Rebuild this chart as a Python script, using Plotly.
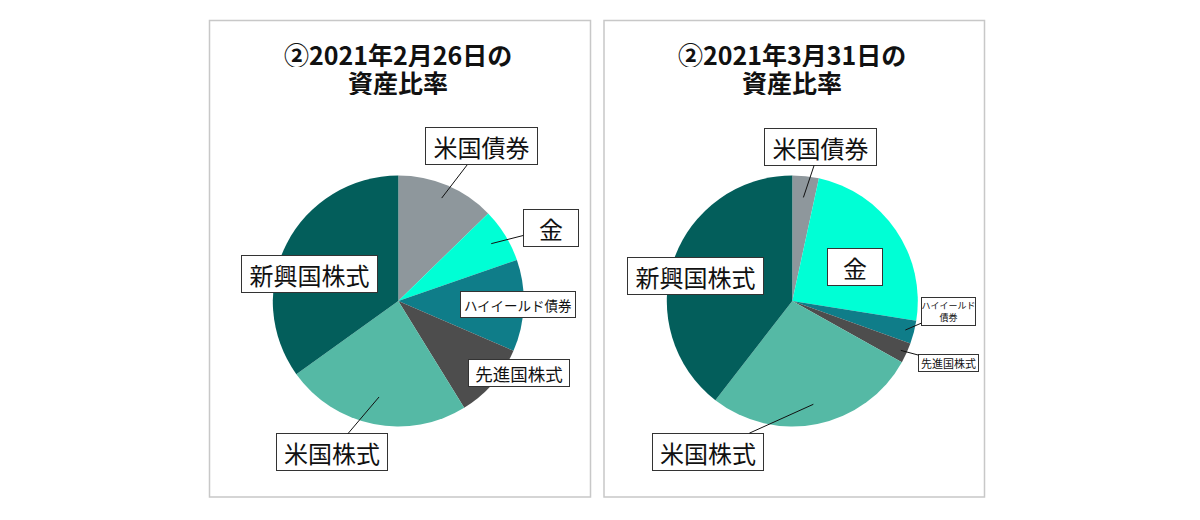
import math
import plotly.graph_objects as go

# ---------------- data ----------------
categories = ["米国債券", "金", "ハイイールド債券", "先進国株式", "米国株式", "新興国株式"]
values_feb = [12.7, 7.0, 11.8, 9.7, 23.9, 34.9]
values_mar = [3.4, 24.1, 3.0, 2.6, 27.4, 39.5]
colors = ["#8E979C", "#00FFD5", "#0F7D89", "#4D4D4D", "#55B9A5", "#035E5B"]
title_feb = ["②2021年2月26日の", "資産比率"]
title_mar = ["②2021年3月31日の", "資産比率"]
label_feb = ["米国債券", "金", "ハイイールド債券", "先進国株式", "米国株式", "新興国株式"]
label_mar = ["米国債券", "金", "ハイイールド<br>債券", "先進国株式", "米国株式", "新興国株式"]

W, H = 1200, 520
FONT = "Noto Sans CJK JP"

# ---------------- layout / geometry (pixels) ----------------
R = 125.5
panels = [
    dict(values=values_feb, title=title_feb, labels=label_feb, cx=398.3, cy=301,
         box=(209.5, 20.5, 590.5, 497),
         # label box: center x, center y, width, height, font size, leader radius fraction (None = no leader)
         lab=[(481.3, 146.5, 113, 38, 24, 0.89),
              (550.7, 228.5, 56, 38, 24, 0.87),
              (518.3, 304.2, 116, 27, 13.5, None),
              (519.3, 373.3, 102, 28, 17.5, None),
              (332.2, 452.2, 112, 38, 24, 0.78),
              (309.8, 274.3, 137, 38, 24, None)]),
    dict(values=values_mar, title=title_mar, labels=label_mar, cx=792.3, cy=301,
         box=(604, 20.5, 984.5, 497),
         lab=[(820.3, 146.8, 113, 38, 24, 0.83),
              (854.7, 266.5, 56, 38, 24, None),
              (948.3, 311.5, 55, 28.5, 9, 0.93),
              (948.8, 363.2, 61, 18, 11, 0.95),
              (708.3, 451.7, 112, 38, 24, 0.84),
              (695.8, 275.5, 137, 38, 24, None)]),
]

fig = go.Figure()
annotations = []
shapes = []

for p in panels:
    cx, cy = p["cx"], p["cy"]
    fig.add_trace(go.Pie(
        labels=categories, values=p["values"],
        marker=dict(colors=colors, line=dict(width=0)),
        sort=False, direction="clockwise", rotation=0,
        textinfo="none", hoverinfo="label+percent", showlegend=False,
        domain=dict(x=[(cx - R) / W, (cx + R) / W],
                    y=[1 - (cy + R) / H, 1 - (cy - R) / H]),
    ))
    x0, y0, x1, y1 = p["box"]
    shapes.append(dict(type="rect", xref="paper", yref="paper",
                       x0=x0 / W, x1=x1 / W, y0=1 - y1 / H, y1=1 - y0 / H,
                       line=dict(color="#C8C8C8", width=1.5), layer="below"))
    for line_text, ly in zip(p["title"], (54, 82)):
        annotations.append(dict(
            text="<b>" + line_text + "</b>", xref="paper", yref="paper",
            x=cx / W, y=1 - ly / H, xanchor="center", yanchor="middle",
            height=26, valign="middle",
            showarrow=False, align="center",
            font=dict(family=FONT, size=25, color="#111111")))
    total = sum(p["values"])
    cum = 0.0
    for v, lab, (bx, by, bw, bh, fs, rf) in zip(p["values"], p["labels"], p["lab"]):
        mid = (cum + v / 2) / total * 2 * math.pi
        cum += v
        common = dict(text=lab, xref="paper", yref="paper",
                      width=bw - 2, height=bh - 2, borderpad=0,
                      bordercolor="#333333", borderwidth=1, bgcolor="#FFFFFF",
                      align="center", valign="middle",
                      font=dict(family=FONT, size=fs, color="#111111"))
        if rf is None:
            annotations.append(dict(x=bx / W, y=1 - by / H, showarrow=False,
                                    xanchor="center", yanchor="middle", **common))
        else:
            tx = cx + R * rf * math.sin(mid)
            ty = cy - R * rf * math.cos(mid)
            annotations.append(dict(x=tx / W, y=1 - ty / H, showarrow=True,
                                    arrowhead=0, arrowwidth=1, arrowcolor="#111111",
                                    ax=bx - tx, ay=by - ty, axref="pixel", ayref="pixel",
                                    **common))

fig.update_layout(
    width=W, height=H, margin=dict(l=0, r=0, t=0, b=0),
    paper_bgcolor="#FFFFFF", plot_bgcolor="#FFFFFF",
    annotations=annotations, shapes=shapes,
    font=dict(family=FONT),
)
fig.write_html("out.html")
